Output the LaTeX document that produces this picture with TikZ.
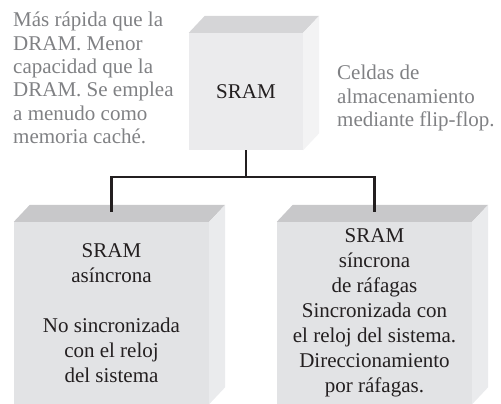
\documentclass[tikz,border=0pt]{standalone}
\usepackage{fontspec}
\setmainfont{Liberation Serif}
\usepackage{tikz}
\usetikzlibrary{calc}
\definecolor{inkdark}{RGB}{35,31,32}
\definecolor{notegrey}{RGB}{128,129,132}
\definecolor{paleface}{RGB}{235,235,237}
\definecolor{paletop}{RGB}{213,213,215}
\definecolor{paleside}{RGB}{243,243,244}
\definecolor{greyface}{RGB}{226,227,229}
\definecolor{greytop}{RGB}{200,200,202}
\definecolor{greyside}{RGB}{234,235,237}

\begin{document}
\begin{tikzpicture}[x=1pt, y=-1pt,
  front/.style={fill=#1, inner sep=0pt, align=center, text=inkdark,
                font=\fontsize{21}{25}\selectfont},
  note/.style={text=notegrey, align=left, inner sep=0pt,
               font=\fontsize{21}{23.4}\selectfont},
  wire/.style={draw=inkdark, line width=2.2pt}]
\useasboundingbox (0,0) rectangle (501,404);
% upper cube
\node[front=paleface, minimum width=114pt, minimum height=117pt] (sram) at (246,91.5) {SRAM};
\fill[paletop] (sram.north west) -- ++(16,-17) -- ($(sram.north east)+(16,-17)$) -- (sram.north east) -- cycle;
\fill[paleside] (sram.north east) -- ++(16,-17) -- ($(sram.south east)+(16,-17)$) -- (sram.south east) -- cycle;
% lower cubes
\node[front=greyface, minimum width=195pt, minimum height=182pt] (async) at (111.5,313)
  {SRAM\\asíncrona\\[25pt]No sincronizada\\con el reloj\\del sistema};
\fill[greytop] (async.north west) -- ++(16,-17) -- ($(async.north east)+(16,-17)$) -- (async.north east) -- cycle;
\fill[greyside] (async.north east) -- ++(16,-17) -- ($(async.south east)+(16,-17)$) -- (async.south east) -- cycle;
\node[front=greyface, minimum width=195pt, minimum height=182pt] (sync) at (374.5,313)
  {SRAM\\síncrona\\de ráfagas\\Sincronizada con\\el reloj del sistema.\\Direccionamiento\\por ráfagas.};
\fill[greytop] (sync.north west) -- ++(16,-17) -- ($(sync.north east)+(16,-17)$) -- (sync.north east) -- cycle;
\fill[greyside] (sync.north east) -- ++(16,-17) -- ($(sync.south east)+(16,-17)$) -- (sync.south east) -- cycle;
% tree lines
\coordinate (hub) at (sram.south |- 0,177);
\draw[wire] (sram.south) -- (hub);
\draw[wire] ([yshift=10pt]async.north) |- (hub) -| ([yshift=10pt]sync.north);
% side notes
\node[note, anchor=west] (speed) at (13,78)
  {Más rápida que la\\DRAM. Menor\\capacidad que la\\DRAM. Se emplea\\a menudo como\\memoria caché.};
\node[note, anchor=west] (cells) at (337,98)
  {Celdas de\\almacenamiento\\mediante flip-flop.};
\end{tikzpicture}
\end{document}
